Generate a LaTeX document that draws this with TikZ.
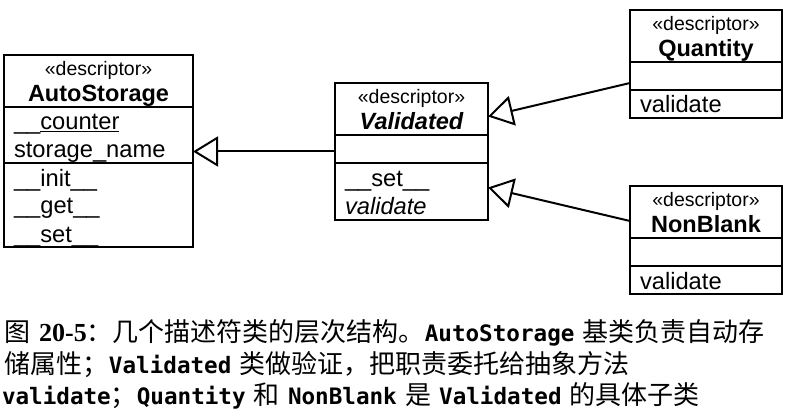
\documentclass[tikz,border=0pt]{standalone}
\usepackage{fontspec}
\setmainfont{Liberation Sans}
\newfontfamily\cjk[WordSpace=1.4]{Noto Sans CJK SC}
\newfontfamily\capmono{DejaVu Sans Mono}
\newfontfamily\capserif{Liberation Serif}
\usetikzlibrary{positioning,arrows.meta}

\newcommand{\rowstrut}{\rule[-5pt]{0pt}{28pt}}
\newcommand{\stereo}{{\mdseries\upshape\fontsize{19.5}{26}\selectfont «descriptor»}}
\newcommand{\cmono}[1]{{\capmono\bfseries\fontsize{22.6}{32}\selectfont #1}}

\begin{document}
\begin{tikzpicture}[x=1pt,y=-1pt,line width=2pt,
  every node/.style={inner sep=0pt,outer sep=0pt},
  head/.style={draw,align=center,minimum width=#1,minimum height=52pt,
    text depth=0pt,font=\fontsize{23.5}{26}\selectfont\bfseries},
  part/.style={draw,align=left,text width=#1,inner xsep=10pt,
    font=\fontsize{23.7}{28}\selectfont},
  generalize/.style={-{Triangle[open,length=25pt,width=30pt]}},
  caption/.style={anchor=base west,font=\cjk\fontsize{26}{32}\selectfont}]
  \path[use as bounding box,fill=white] (0,0) rectangle (792,414);

  \node[head=189pt] (AS) at (98.5,81) {\stereo\\AutoStorage};
  \node[part=169pt,minimum height=56pt,below=0pt of AS] (ASattr)
    {\rowstrut\_\_\underline{\smash{counter}}\\\rowstrut storage\_name};
  \node[part=169pt,minimum height=84pt,below=0pt of ASattr] (ASmeth)
    {\rowstrut\_\_init\_\_\\\rowstrut\_\_get\_\_\\\rowstrut\_\_set\_\_};

  \node[head=153pt] (V) at (411.5,109.5) {\stereo\\\itshape Validated};
  \node[part=133pt,minimum height=28pt,below=0pt of V] (Vattr) {};
  \node[part=133pt,minimum height=56pt,below=0pt of Vattr] (Vmeth)
    {\rowstrut\_\_set\_\_\\\rowstrut\itshape validate};

  \node[head=152pt] (Q) at (706,36) {\stereo\\Quantity};
  \node[part=132pt,minimum height=28pt,below=0pt of Q] (Qattr) {};
  \node[part=132pt,minimum height=28pt,below=0pt of Qattr] (Qmeth)
    {\rowstrut validate};

  \node[head=152pt] (NB) at (706,212) {\stereo\\NonBlank};
  \node[part=132pt,minimum height=28pt,below=0pt of NB] (NBattr) {};
  \node[part=132pt,minimum height=28pt,below=0pt of NBattr] (NBmeth)
    {\rowstrut validate};

  \path ([yshift=-2pt]Vattr.west) edge[generalize] ([yshift=-2pt]Vattr.west -| ASattr.east)
    ([yshift=-7pt]Qattr.west) edge[generalize] ([yshift=-7pt]V.east)
    ([yshift=-9pt]NB.west) edge[generalize] ([yshift=4pt]Vmeth.east);

  \node[caption] (cap1) at (5,341)
    {图 {\capserif\bfseries 20-5}：几个描述符类的层次结构。\cmono{AutoStorage} 基类负责自动存};
  \node[caption] (cap2) at (5,373)
    {储属性；\cmono{Validated} 类做验证，把职责委托给抽象方法};
  \node[caption] (cap3) at (2,404)
    {\cmono{validate}；\cmono{Quantity} 和 \cmono{NonBlank} 是 \cmono{Validated} 的具体子类};
\end{tikzpicture}
\end{document}
